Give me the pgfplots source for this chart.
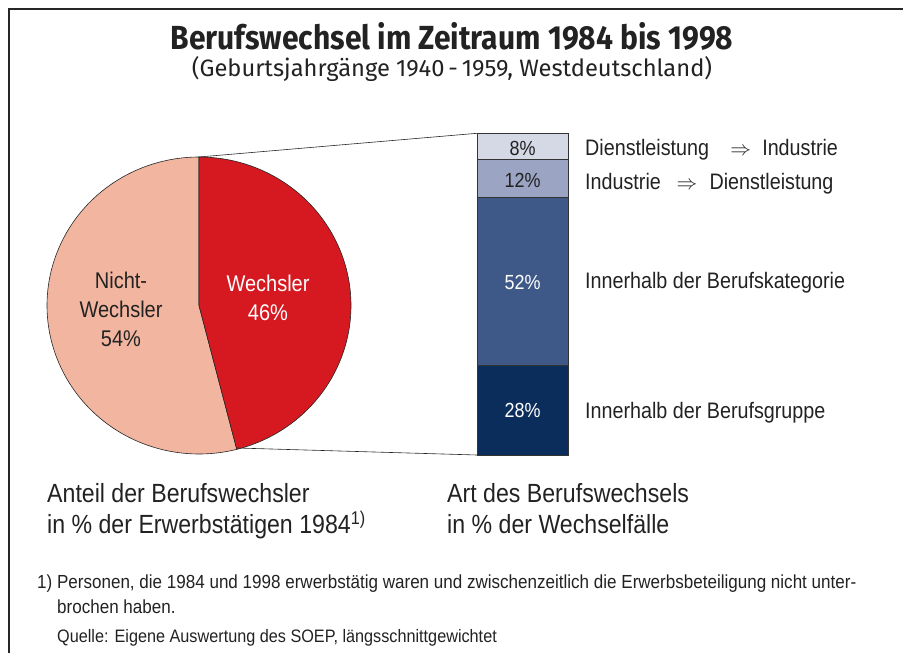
\documentclass[border=0pt]{standalone}
\usepackage{fontspec}
\setmainfont{Liberation Sans}[FakeStretch=0.88]
\newfontfamily\footfont{Liberation Sans}[FakeStretch=0.9]
\newfontfamily\titlefont{Fira Sans}[FakeStretch=0.9]
\newfontfamily\subfont{Fira Sans}
\usepackage{pgfplots}
\usepackage{pgfplotstable}
\pgfplotsset{compat=1.18}
\definecolor{salmon}{HTML}{F2B6A0}
\definecolor{wred}{HTML}{D61921}
\definecolor{bA}{HTML}{0B2D5B}
\definecolor{bB}{HTML}{3E5987}
\definecolor{bC}{HTML}{9BA5C3}
\definecolor{bD}{HTML}{D5D9E5}
\definecolor{txt}{HTML}{222222}

\pgfplotstableread{
label value
Wechsler 46
NichtWechsler 54
}\pietable
\pgfplotstableread{
x a b c d
0.5 28 52 12 8
}\bartable

\begin{document}%
\begin{tikzpicture}
\pgfplotstablegetelem{0}{value}\of\pietable\edef\vW{\pgfplotsretval}
\pgfplotstablegetelem{1}{value}\of\pietable\edef\vN{\pgfplotsretval}
\pgfmathsetmacro{\aW}{90-\vW*3.6}
\pgfmathsetmacro{\aN}{90+\vN*3.6}
% stacked bar (pixel position: x 477..568, y 133.3..455)
\begin{axis}[at={(477bp,198bp)}, anchor=south west, scale only axis,
  width=91bp, height=321.7bp, xmin=0, xmax=1, ymin=0, ymax=100,
  hide axis, clip=false, ybar stacked, bar width=91bp,
  every axis plot/.append style={draw=black!80, line width=0.7bp}]
\addplot[fill=bA] table[x=x, y=a] {\bartable};
\addplot[fill=bB] table[x=x, y=b] {\bartable};
\addplot[fill=bC] table[x=x, y=c] {\bartable};
\addplot[fill=bD] table[x=x, y=d] {\bartable};
\end{axis}
\begin{axis}[name=main, scale only axis, width=903bp, height=653bp,
  xmin=0, xmax=903, ymin=0, ymax=653, y dir=reverse,
  hide axis, clip=false, at={(0,0)}, anchor=south west]
% frame
\draw[line width=1.6bp, black!85] (axis cs:9,653) -- (axis cs:9,9) -- (axis cs:903,9);
% pie
\addplot[draw=black!85, line width=0.6bp, fill=salmon, domain=90:\aN, samples=150, variable=\t]
  ({199+152*cos(t)},{305.5-148.5*sin(t)}) -- (axis cs:199,305.5) -- cycle;
\addplot[draw=black!85, line width=0.6bp, fill=wred, domain=\aW:90, samples=150, variable=\t]
  ({199+152*cos(t)},{305.5-148.5*sin(t)}) -- (axis cs:199,305.5) -- cycle;
% connectors
\addplot[black!85, line width=0.6bp] coordinates {(199,157) (477,133.3)};
\addplot[black!85, line width=0.6bp] coordinates {(237,448) (477,455)};
% bar value labels
\node[font=\fontsize{20.5}{24}\selectfont, text=white] at (axis cs:522.5,410) {28\%};
\node[font=\fontsize{20.5}{24}\selectfont, text=white] at (axis cs:522.5,282) {52\%};
\node[font=\fontsize{20.5}{24}\selectfont, text=txt] at (axis cs:522.5,180) {12\%};
\node[font=\fontsize{20.5}{24}\selectfont, text=txt] at (axis cs:522.5,148) {8\%};
% titles
\node[anchor=base, inner sep=0pt, font=\titlefont\bfseries\fontsize{33.5}{38}\selectfont, text=txt] at (axis cs:452,50) {Berufswechsel im Zeitraum 1984 bis 1998};
\node[anchor=base, inner sep=0pt, font=\subfont\fontsize{23.8}{27}\selectfont, text=txt] at (axis cs:452,77) {(Geburtsjahrgänge 1940\,-\,1959, Westdeutschland)};
% pie labels
\node[align=center, font=\fontsize{22.8}{29}\selectfont, text=txt] at (axis cs:121,309) {Nicht-\\Wechsler\\54\%};
\node[align=center, font=\fontsize{22.8}{29}\selectfont, text=white] at (axis cs:268,298) {Wechsler\\46\%};
% bar legend texts
\begin{scope}[every node/.style={anchor=base west, inner sep=0pt, text=txt, font=\fontsize{22.5}{27}\selectfont}]
\node at (axis cs:585,155) {Dienstleistung\hspace{0.95em}$\Rightarrow$\hspace{0.5em}Industrie};
\node at (axis cs:585,189) {Industrie\hspace{0.7em}$\Rightarrow$\hspace{0.55em}Dienstleistung};
\node at (axis cs:585,288) {Innerhalb der Berufskategorie};
\node at (axis cs:585,418) {Innerhalb der Berufsgruppe};
\end{scope}
% captions
\begin{scope}[every node/.style={anchor=base west, inner sep=0pt, text=txt, font=\fontsize{26.4}{31}\selectfont}]
\node at (axis cs:47,502) {Anteil der Berufswechsler};
\node at (axis cs:47,533) {in \% der Erwerbstätigen 1984\textsuperscript{1)}};
\node at (axis cs:447,502) {Art des Berufswechsels};
\node at (axis cs:447,533) {in \% der Wechselfälle};
\end{scope}
% footnote
\begin{scope}[every node/.style={anchor=base west, inner sep=0pt, text=txt}]
\node[font=\footfont\fontsize{19}{22}\selectfont] at (axis cs:37,588) {1) Personen, die 1984 und 1998 erwerbstätig waren und zwischenzeitlich die Erwerbsbeteiligung nicht unter-};
\node[font=\footfont\fontsize{19}{22}\selectfont] at (axis cs:57,613) {brochen haben.};
\node[font=\footfont\fontsize{18.1}{21}\selectfont] at (axis cs:57,642) {Quelle: Eigene Auswertung des SOEP, längsschnittgewichtet};
\end{scope}
\end{axis}
\pgfresetboundingbox
\path[use as bounding box] (main.south west) rectangle (main.north east);
\end{tikzpicture}%
\end{document}
